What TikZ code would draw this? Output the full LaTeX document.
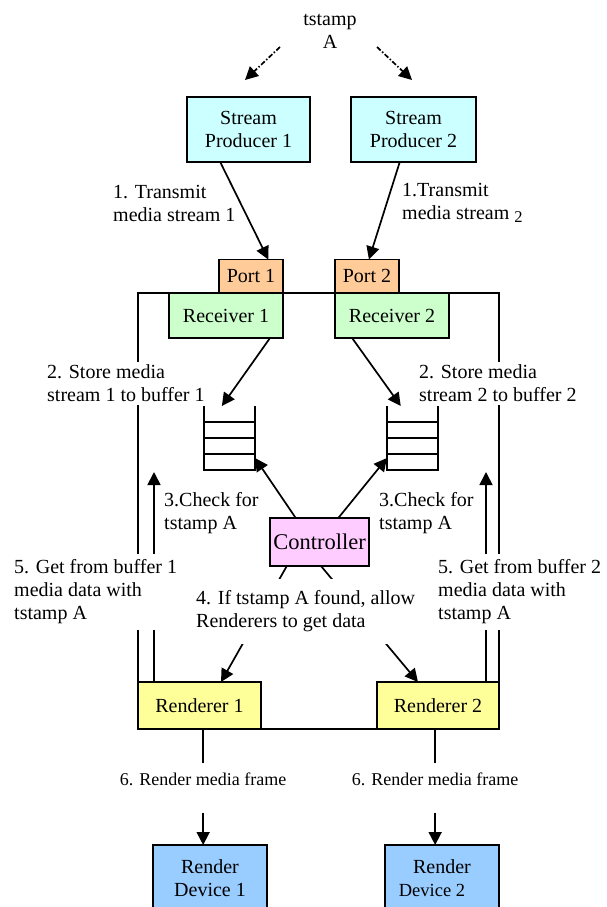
\documentclass[tikz,border=0pt]{standalone}
\usepackage{fontspec}
\setmainfont{Liberation Serif}
\usetikzlibrary{arrows.meta,calc}
\definecolor{prodc}{HTML}{CCFFFF}
\definecolor{portc}{HTML}{FFCC99}
\definecolor{recvc}{HTML}{CCFFCC}
\definecolor{ctrlc}{HTML}{FFCCFF}
\definecolor{rendc}{HTML}{FFFF99}
\definecolor{devc}{HTML}{99CCFF}
\begin{document}
\begin{tikzpicture}[x=1pt,y=-1pt,
  every node/.style={font=\fontsize{20}{23}\selectfont},
  box/.style={draw,line width=1.8pt,inner sep=0pt,outer sep=0pt,align=center},
  arr/.style={line width=1.7pt,-{Triangle[length=13pt,width=13pt]}},
  dasharr/.style={line width=1.7pt,dash pattern=on 5pt off 2pt on 1.5pt off 2pt,-{Triangle[length=13pt,width=13pt]}},
  txt/.style={align=left,inner xsep=3pt,inner ysep=3pt,anchor=west},
  lbl/.style={txt,fill=white},
  plain/.style={line width=1.7pt}]
\path[use as bounding box] (0,0) rectangle (607,907);
\clip (0,0) rectangle (607,907);

% boxes
\node[box,fill=prodc,minimum width=123pt,minimum height=65pt] (prod1) at (248.5,129.5) {Stream\\Producer 1};
\node[box,fill=prodc,minimum width=125pt,minimum height=65pt] (prod2) at (413.5,129.5) {Stream\\Producer 2};
\node[box,fill=portc,minimum width=64pt,minimum height=33pt] (port1) at (251,276) {Port 1};
\node[box,fill=portc,minimum width=64pt,minimum height=33pt] (port2) at (367,276) {Port 2};
\node[box,fill=recvc,minimum width=114pt,minimum height=45pt] (recv1) at (226,315.5) {Receiver 1};
\node[box,fill=recvc,minimum width=114pt,minimum height=45pt] (recv2) at (392,315.5) {Receiver 2};
\node[box,fill=ctrlc,minimum width=99pt,minimum height=48pt,font=\fontsize{22.5}{24}\selectfont] (ctrl) at (319.5,542) {Controller};
\node[box,fill=rendc,minimum width=123pt,minimum height=47pt] (rend1) at (199.5,705.5) {Renderer 1};
\node[box,fill=rendc,minimum width=122pt,minimum height=47pt] (rend2) at (438,705.5) {Renderer 2};
\node[box,fill=devc,minimum width=114pt,minimum height=66pt] (dev1) at (210,878) {Render\\Device 1};
\node[box,fill=devc,minimum width=114pt,minimum height=66pt] (dev2) at (442,878) {Render\\{\fontsize{18.5}{22}\selectfont Device 2}\hspace*{20pt}};

% buffers
\node[minimum width=51pt,minimum height=64pt,inner sep=0pt,outer sep=0pt] (buf1) at (229.5,438) {};
\node[minimum width=51pt,minimum height=64pt,inner sep=0pt,outer sep=0pt] (buf2) at (412.5,438) {};
\foreach \b in {buf1,buf2}{
  \draw[plain] (\b.north west) -- (\b.south west) -- (\b.south east) -- (\b.north east);
  \foreach \f in {0.25,0.5,0.75}
    \draw[plain] ($(\b.north west)!\f!(\b.south west)$) -- ($(\b.north east)!\f!(\b.south east)$);
}

% outer frame
\draw[plain] (rend1.south west) -- (rend1.south west |- recv1.north) -- (rend2.south east |- recv1.north) -- (rend2.south east) -- cycle;

% top label and dashed arrows
\node[align=center] (ts) at (330,31) {tstamp\\A};
\coordinate (ta1) at (280,47); \coordinate (tb1) at (245,80);
\coordinate (ta2) at (377,47); \coordinate (tb2) at (412,80);
\draw[dasharr] (ta1) -- (tb1);
\draw[dasharr] (ta2) -- (tb2);

% step 1
\draw[arr] ($(prod1.south west)!0.27!(prod1.south east)$) -- ($(port1.north west)!0.77!(port1.north east)$);
\draw[arr] ($(prod2.south west)!0.39!(prod2.south east)$) -- ($(port2.north west)!0.53!(port2.north east)$);

% step 2
\draw[arr] ($(recv1.south west)!0.886!(recv1.south east)$) -- ($(buf1.north west)!0.35!(buf1.north east)$);
\draw[arr] ($(recv2.south west)!0.15!(recv2.south east)$) -- ($(buf2.north west)!0.27!(buf2.north east)$);

% step 3
\draw[arr] ($(ctrl.north west)!0.26!(ctrl.north east)$) -- ($(buf1.south east)+(0,-12)$);
\draw[arr] ($(ctrl.north west)!0.69!(ctrl.north east)$) -- ($(buf2.south west)+(0,-12)$);

% step 4
\draw[arr] ($(ctrl.south west)!0.17!(ctrl.south east)$) -- ($(rend1.north west)!0.675!(rend1.north east)$);
\draw[arr] ($(ctrl.south west)!0.515!(ctrl.south east)$) -- ($(rend2.north west)!0.336!(rend2.north east)$);

% step 5
\coordinate (u1) at (154,472);
\coordinate (u2) at (486,472);
\draw[arr] (rend1.north -| u1) -- (u1);
\draw[arr] (rend2.north -| u2) -- (u2);

% step 6
\coordinate (d1) at ($(dev1.north west)!0.44!(dev1.north east)$);
\coordinate (d2) at ($(dev2.north west)!0.44!(dev2.north east)$);
\draw[arr] (rend1.south -| d1) -- (d1);
\draw[arr] (rend2.south -| d2) -- (d2);

% labels
\node[txt] (l1a) at (110,203) {1. Transmit\\media stream 1};
\node[txt] (l1b) at (399,203) {1.Transmit\\media stream \raisebox{-3pt}{\fontsize{16.5}{16}\selectfont 2}};
\node[lbl] (l2a) at (44,383.5) {2. Store media\\stream 1 to buffer 1};
\node[lbl] (l2b) at (416,383.5) {2. Store media\\stream 2 to buffer 2};
\node[txt] (l3a) at (161,513.5) {3.Check for\\tstamp A};
\node[txt] (l3b) at (376,513.5) {3.Check for\\tstamp A};
\node[lbl,inner ysep=12pt] (l4) at (193,611.5) {4. If tstamp A found, allow\\Renderers to get data};
\node[lbl,inner ysep=6pt] (l5a) at (11,592) {5. Get from buffer 1\\media data with\\tstamp A};
\node[lbl,inner ysep=6pt] (l5b) at (435,592) {5. Get from buffer 2\\media data with\\tstamp A};
\node[fill=white,anchor=base,inner ysep=0pt,inner xsep=3pt,text height=22pt,text depth=28pt,font=\fontsize{18}{20}\selectfont] (l6a) at (d1 |- 0,785) {6. Render media frame};
\node[fill=white,anchor=base,inner ysep=0pt,inner xsep=3pt,text height=22pt,text depth=28pt,font=\fontsize{18}{20}\selectfont] (l6b) at (d2 |- 0,785) {6. Render media frame};
\end{tikzpicture}
\end{document}
